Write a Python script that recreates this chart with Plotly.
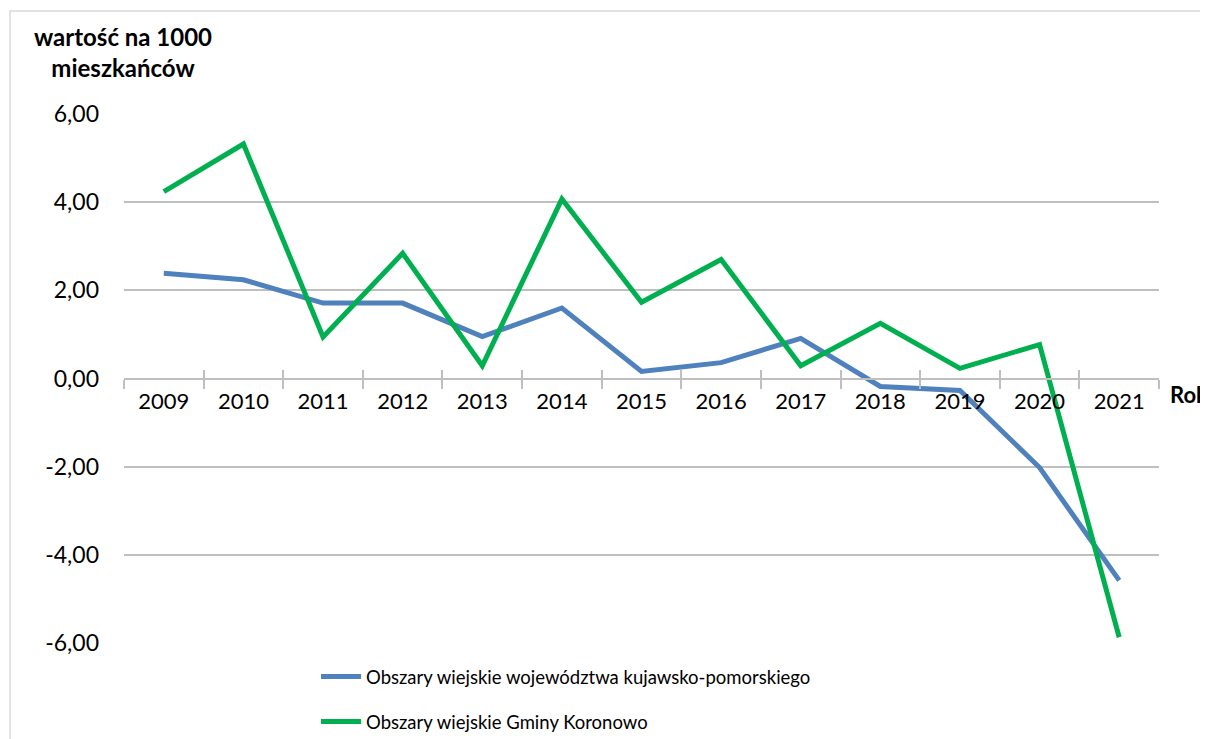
import plotly.graph_objects as go

years = ["2009", "2010", "2011", "2012", "2013", "2014", "2015", "2016", "2017", "2018", "2019", "2020", "2021"]
kujawsko = [2.39, 2.24, 1.71, 1.71, 0.95, 1.60, 0.16, 0.36, 0.91, -0.18, -0.27, -2.02, -4.58]
koronowo = [4.24, 5.32, 0.94, 2.84, 0.29, 4.07, 1.73, 2.70, 0.29, 1.25, 0.23, 0.77, -5.87]
name_kuj = "Obszary wiejskie województwa kujawsko-pomorskiego"
name_kor = "Obszary wiejskie Gminy Koronowo"
y_ticks = [-6, -4, -2, 0, 2, 4, 6]
y_labels = [f"{v:.2f}".replace(".", ",") for v in y_ticks]

# page body has an 8px margin; figure is offset by it
OFF = 8
W, H = 1200, 731
L, T = 124 - OFF, 114 - OFF
PW, PH = 1035, 529
R, B = W - L - PW, H - T - PH

def px(x):
    return (x - OFF - L) / PW

def py(y):
    return 1 - (y - OFF - T) / PH

FONT = "Lato"
GRID = "#bfbfbf"

fig = go.Figure()
fig.add_trace(go.Scatter(x=years, y=kujawsko, mode="lines", name=name_kuj,
                         line=dict(color="#4f81bd", width=5), legend="legend"))
fig.add_trace(go.Scatter(x=years, y=koronowo, mode="lines", name=name_kor,
                         line=dict(color="#00b050", width=5), legend="legend2"))
# overlay axis for upward ticks
fig.add_trace(go.Scatter(x=years, y=[None]*len(years), xaxis="x2", showlegend=False,
                         hoverinfo="skip"))

fig.update_layout(
    width=W, height=H,
    margin=dict(l=L, r=R, t=T, b=B, autoexpand=False),
    paper_bgcolor="white", plot_bgcolor="white",
    font=dict(family=FONT, size=21, color="black"),
    xaxis=dict(type="category", range=[-0.5, 12.5], anchor="free", position=0.5,
               showline=True, linecolor=GRID, linewidth=2,
               ticks="outside", ticklen=9, tickwidth=2, tickcolor=GRID,
               tickson="boundaries", showgrid=False, zeroline=False,
               tickfont=dict(family=FONT, size=22), ticklabelstandoff=3),
    xaxis2=dict(type="category", range=[-0.5, 12.5], overlaying="x", anchor="free",
                position=0.5, ticks="inside", ticklen=9, tickwidth=2, tickcolor=GRID,
                tickson="boundaries", showticklabels=False, showline=False,
                showgrid=False, zeroline=False),
    yaxis=dict(range=[-6, 6], tickvals=y_ticks, ticktext=y_labels,
               showgrid=True, gridcolor=GRID, gridwidth=1.5, zeroline=False,
               showline=False, ticks="", ticklabelstandoff=24,
               tickfont=dict(family=FONT, size=23)),
    legend=dict(x=px(316), y=py(677), xanchor="left", yanchor="middle", xref="paper", yref="paper",
                font=dict(family=FONT, size=18.5), bgcolor="rgba(0,0,0,0)", itemwidth=40),
    legend2=dict(x=px(316), y=py(722), xanchor="left", yanchor="middle", xref="paper", yref="paper",
                 font=dict(family=FONT, size=18.5), bgcolor="rgba(0,0,0,0)", itemwidth=40),
    showlegend=True,
)

fig.add_annotation(text="<b>wartość na 1000</b><br><b>mieszkańców</b>", xref="paper", yref="paper",
                   x=px(123), y=py(52), xanchor="center", yanchor="middle", align="center",
                   showarrow=False, font=dict(family=FONT, size=24, color="black"))
fig.add_annotation(text="<b>Rok</b>", xref="paper", yref="paper",
                   x=px(1168), y=py(394), xanchor="left", yanchor="middle",
                   showarrow=False, font=dict(family=FONT, size=22, color="black"))

fig.add_shape(type="rect", xref="paper", yref="paper", x0=px(10), x1=px(1230), y0=py(11), y1=py(780),
              line=dict(color="#d9d9d9", width=1.5), layer="below")

fig.write_html("out.html")
